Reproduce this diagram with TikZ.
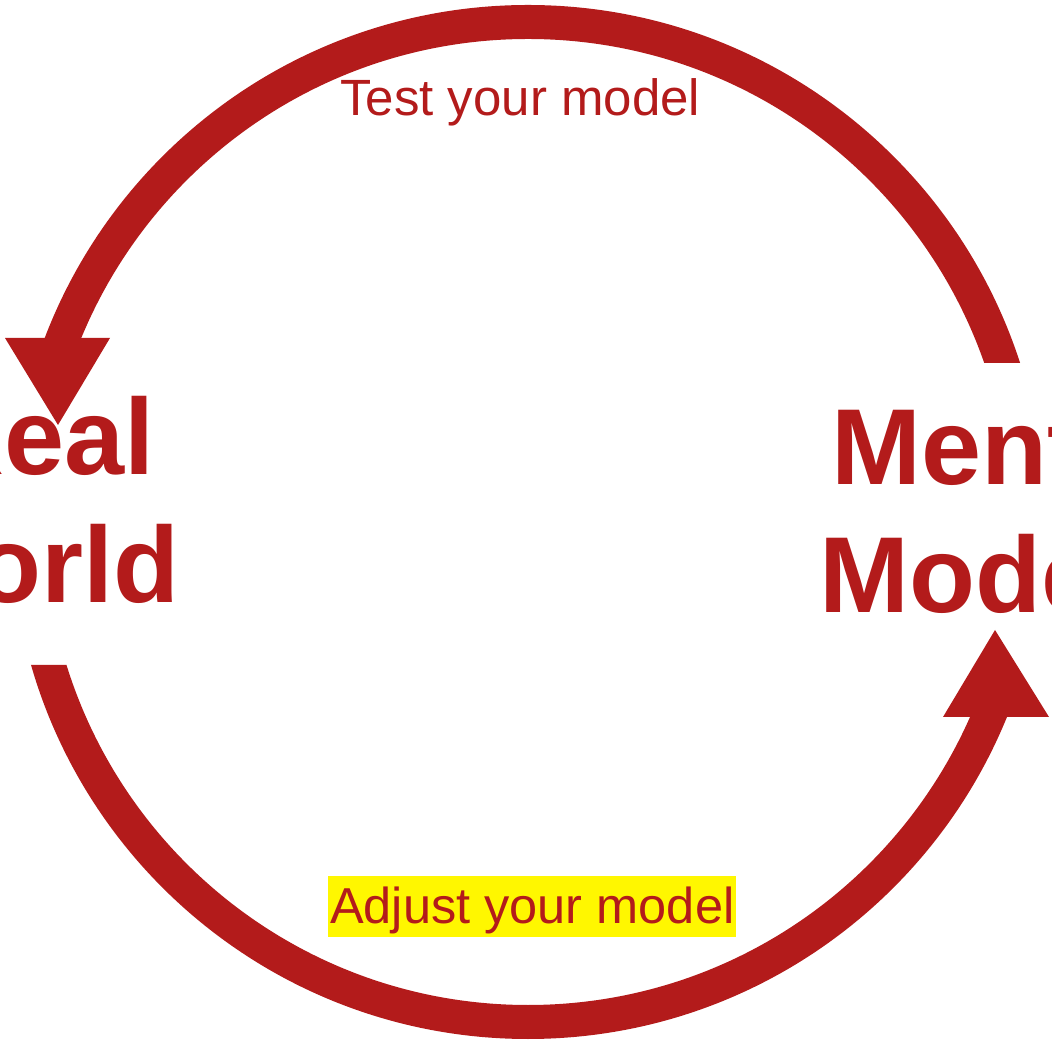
\documentclass[tikz,border=0pt]{standalone}
\usepackage{fontspec}
\setmainfont{Liberation Sans}
\definecolor{cyclered}{HTML}{B31B1B}
\definecolor{hilite}{HTML}{FFF700}
\begin{document}
\begin{tikzpicture}[x=1pt,y=1pt,
  band/.style={draw=cyclered,line width=34pt},
  head/.style={fill=cyclered},
  steplabel/.style={text=cyclered,font=\fontsize{51}{60}\selectfont,inner sep=0pt},
  biglabel/.style={text=cyclered,font=\fontsize{108}{128}\selectfont\bfseries,inner sep=0pt}]
\useasboundingbox (0,0) rectangle (1052,1039);
\clip (0,0) rectangle (1052,1039);
\coordinate (c) at (528,517);
% top arc: Mental Model -> Real World
\begin{scope}
  \clip (0,701) -- (528,701) -- (528,676) -- (1052,676) -- (1052,1039) -- (0,1039) -- cycle;
  \draw[band] (c) circle[radius=500];
\end{scope}
% bottom arc: Real World -> Mental Model
\begin{scope}
  \clip (0,374) -- (528,374) -- (528,322) -- (1052,322) -- (1052,0) -- (0,0) -- cycle;
  \draw[band] (c) circle[radius=500];
\end{scope}
% arrow heads
\coordinate (tipL) at (58,614);
\coordinate (tipR) at (995,409);
\fill[head] (5,701) -- (110,701) -- (tipL) -- cycle;
\fill[head] (943,322) -- (1049,322) -- (tipR) -- cycle;
% labels
\node[steplabel,anchor=base west] (test) at (340,923) {Test your model};
\node[steplabel,anchor=base west,fill=hilite,inner xsep=2pt,inner ysep=0pt,text height=48pt,text depth=13pt,font=\fontsize{50.5}{60}\selectfont] (adjust) at (328,115) {Adjust your model};
\node[biglabel,anchor=base east] (real) at (155,564) {Real};
\node[biglabel,anchor=base east] (world) at (180,436) {World};
\node[biglabel,anchor=base west] (mental) at (831,554) {Mental};
\node[biglabel,anchor=base west] (model) at (819,426) {Model};
\end{tikzpicture}
\end{document}
